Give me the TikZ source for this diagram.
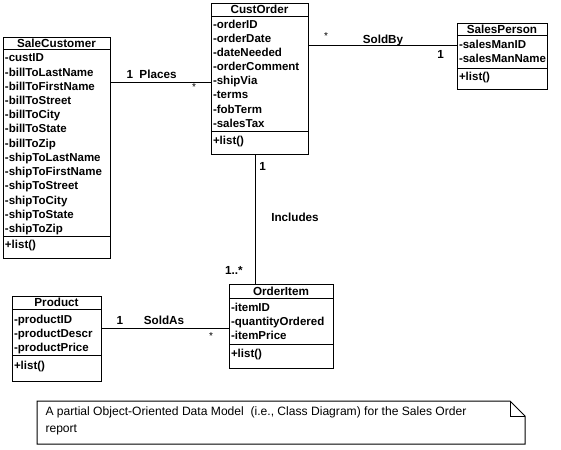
\documentclass[tikz,border=0pt]{standalone}
\usepackage{fontspec}
\setmainfont{Liberation Sans}
\begin{document}
\begin{tikzpicture}[x=1pt,y=-1pt, line width=1pt,
 box/.style={draw, rectangle, anchor=north west, inner sep=0pt},
 txt/.style={inner sep=0pt, text height=8.4pt, text depth=2.4pt, yshift=-1pt},
 ttl/.style={txt, font=\fontsize{11.7}{14}\selectfont\bfseries},
 attr/.style={txt, font=\fontsize{11.5}{14}\selectfont\bfseries, anchor=west},
 lbl/.style={txt, font=\fontsize{11.7}{14}\selectfont\bfseries},
 star/.style={inner sep=0pt, font=\fontsize{10}{12}\selectfont},
 notetext/.style={txt, font=\fontsize{12.1}{14}\selectfont, anchor=west}]
\useasboundingbox (0,0) rectangle (561,449);

% SaleCustomer
\node[box, minimum width=107pt, minimum height=221pt] (sc) at (3,37) {};
\node[ttl] (sct) at (56.5,43.5) {SaleCustomer};
\draw ([yshift=-12.5pt]sc.north west) -- ([yshift=-12.5pt]sc.north east);
\foreach \t [count=\i] in {-custID,-billToLastName,-billToFirstName,-billToStreet,-billToCity,-billToState,-billToZip,-shipToLastName,-shipToFirstName,-shipToStreet,-shipToCity,-shipToState,-shipToZip}
  \node[attr] (sca\i) at (4.5,{58+14.2*(\i-1)}) {\t};
\draw ([yshift=-199pt]sc.north west) -- ([yshift=-199pt]sc.north east);
\node[attr] (scm) at (4.5,244) {+list()};

% CustOrder
\node[box, minimum width=97pt, minimum height=151pt] (co) at (211,3) {};
\node[ttl] (cot) at (259.5,10) {CustOrder};
\draw ([yshift=-13.5pt]co.north west) -- ([yshift=-13.5pt]co.north east);
\foreach \t [count=\i] in {-orderID,-orderDate,-dateNeeded,-orderComment,-shipVia,-terms,-fobTerm,-salesTax}
  \node[attr] (coa\i) at (212.5,{24.5+14.1*(\i-1)}) {\t};
\draw ([yshift=-129pt]co.north west) -- ([yshift=-129pt]co.north east);
\node[attr] (com) at (212.5,141) {+list()};

% SalesPerson
\node[box, minimum width=90pt, minimum height=66pt] (sp) at (457,23) {};
\node[ttl] (spt) at (502,29.5) {SalesPerson};
\draw ([yshift=-12.5pt]sp.north west) -- ([yshift=-12.5pt]sp.north east);
\node[attr] (spa1) at (458.5,44.5) {-salesManID};
\node[attr] (spa2) at (458.5,59) {-salesManName};
\draw ([yshift=-46pt]sp.north west) -- ([yshift=-46pt]sp.north east);
\node[attr] (spm) at (458.5,77) {+list()};

% Product
\node[box, minimum width=89pt, minimum height=85pt] (pr) at (12,296) {};
\node[ttl] (prt) at (56.5,302.5) {Product};
\draw ([yshift=-13pt]pr.north west) -- ([yshift=-13pt]pr.north east);
\node[attr] (pra1) at (13.5,319) {-productID};
\node[attr] (pra2) at (13.5,333) {-productDescr};
\node[attr] (pra3) at (13.5,347) {-productPrice};
\draw ([yshift=-59pt]pr.north west) -- ([yshift=-59pt]pr.north east);
\node[attr] (prm) at (13.5,365) {+list()};

% OrderItem
\node[box, minimum width=104pt, minimum height=84pt] (oi) at (229,284) {};
\node[ttl] (oit) at (281,291) {OrderItem};
\draw ([yshift=-14pt]oi.north west) -- ([yshift=-14pt]oi.north east);
\node[attr] (oia1) at (230.5,307) {-itemID};
\node[attr] (oia2) at (230.5,321) {-quantityOrdered};
\node[attr] (oia3) at (230.5,335) {-itemPrice};
\draw ([yshift=-60pt]oi.north west) -- ([yshift=-60pt]oi.north east);
\node[attr] (oim) at (230.5,353) {+list()};

% Connectors
\draw ([yshift=-46pt]sc.north east) -- ([yshift=-80pt]co.north west);
\node[lbl] (l1a) at (130,74.5) {1};
\node[lbl] (l1b) at (158,74.5) {Places};
\node[star] (l1c) at (194,87) {*};

\draw ([yshift=-43pt]co.north east) -- ([yshift=-23pt]sp.north west);
\node[star] (l2a) at (326,36.5) {*};
\node[lbl] (l2b) at (383,40) {SoldBy};
\node[lbl] (l2c) at (440.5,55) {1};

\draw ([xshift=44pt]co.south west) -- ([xshift=26pt]oi.north west);
\node[lbl] (l3a) at (262.5,166.5) {1};
\node[lbl] (l3b) at (295,217) {Includes};
\node[lbl] (l3c) at (234,270.5) {1..*};

\draw ([yshift=-32pt]pr.north east) -- ([yshift=-44pt]oi.north west);
\node[lbl] (l4a) at (120,320) {1};
\node[lbl] (l4b) at (164,320) {SoldAs};
\node[star] (l4c) at (211,336) {*};

% Note
\node[anchor=north west, minimum width=487pt, minimum height=42pt, inner sep=0pt] (nt) at (37,401) {};
\draw (nt.north west) -- ([xshift=-15pt]nt.north east) -- ([yshift=-15pt]nt.north east) -- (nt.south east) -- (nt.south west) -- cycle;
\draw[line width=0.8pt] ([xshift=-15pt]nt.north east) -- ++(0,15) -- ++(15,0);
\node[notetext] (nt1) at (45,411) {A partial Object-Oriented Data Model\ \ (i.e., Class Diagram) for the Sales Order};
\node[notetext] (nt2) at (45,428) {report};
\end{tikzpicture}
\end{document}
